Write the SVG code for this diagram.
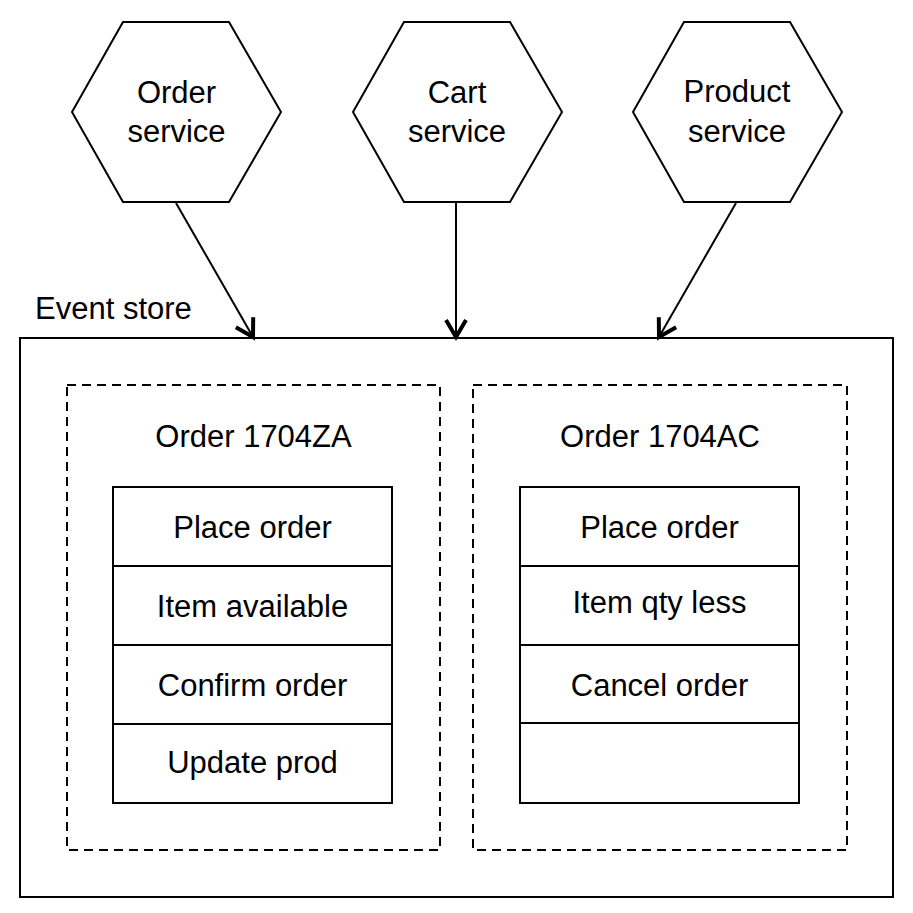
<svg xmlns="http://www.w3.org/2000/svg" width="913" height="913" viewBox="0 0 913 913">
<style>
  .shape { fill: #fff; stroke: #000; stroke-width: 2; }
  .dash { fill: none; stroke: #000; stroke-width: 2; stroke-dasharray: 9 6; }
  .cell { fill: #fff; stroke: #000; stroke-width: 2; }
  .conn { fill: none; stroke: #000; stroke-width: 2; }
  text { font-family: "Liberation Sans", Arial, sans-serif; font-size: 31px; fill: #000; }
  .c { text-anchor: middle; }
</style>
<defs>
  <marker id="chev" markerUnits="userSpaceOnUse" viewBox="-22 -14 26 28" markerWidth="26" markerHeight="28" refX="0" refY="0" orient="auto">
    <path d="M-17,-10 L0,0 L-17,10" fill="none" stroke="#000" stroke-width="4" stroke-linejoin="miter"/>
  </marker>
</defs>
<rect width="913" height="913" fill="#fff"/>

<g id="event-store">
  <rect class="shape" x="20" y="338" width="873" height="559"/>
  <text x="35" y="319">Event store</text>
</g>

<g id="order-service">
  <polygon class="shape" points="72,112 123,22 229,22 281,112 229,202 123,202"/>
  <text class="c" x="176.5" y="103">Order</text>
  <text class="c" x="176.5" y="142">service</text>
</g>
<g id="cart-service">
  <polygon class="shape" points="353,112 404,22 510,22 562,112 510,202 404,202"/>
  <text class="c" x="457" y="103">Cart</text>
  <text class="c" x="457" y="142">service</text>
</g>
<g id="product-service">
  <polygon class="shape" points="633,112 684,22 790,22 842,112 790,202 684,202"/>
  <text class="c" x="737" y="102">Product</text>
  <text class="c" x="737" y="142">service</text>
</g>

<g id="order-1704ZA">
  <rect class="dash" x="67" y="385" width="373" height="465"/>
  <text class="c" x="253.5" y="447">Order 1704ZA</text>
  <rect class="cell" x="113" y="487" width="279" height="79"/>
  <rect class="cell" x="113" y="566" width="279" height="79"/>
  <rect class="cell" x="113" y="645" width="279" height="79"/>
  <rect class="cell" x="113" y="724" width="279" height="79"/>
  <text class="c" x="252.5" y="538">Place order</text>
  <text class="c" x="252.5" y="617">Item available</text>
  <text class="c" x="252.5" y="696">Confirm order</text>
  <text class="c" x="252.5" y="773">Update prod</text>
</g>

<g id="order-1704AC">
  <rect class="dash" x="473" y="385" width="374" height="465"/>
  <text class="c" x="660" y="447">Order 1704AC</text>
  <rect class="cell" x="520" y="487" width="279" height="79"/>
  <rect class="cell" x="520" y="566" width="279" height="79"/>
  <rect class="cell" x="520" y="645" width="279" height="78"/>
  <rect class="cell" x="520" y="723" width="279" height="80"/>
  <text class="c" x="659.5" y="538">Place order</text>
  <text class="c" x="659.5" y="613">Item qty less</text>
  <text class="c" x="659.5" y="696">Cancel order</text>
</g>

<g id="connectors">
  <line class="conn" x1="176" y1="203" x2="253" y2="337" marker-end="url(#chev)"/>
  <line class="conn" x1="456" y1="203" x2="456" y2="337" marker-end="url(#chev)"/>
  <line class="conn" x1="736" y1="203" x2="659" y2="337" marker-end="url(#chev)"/>
</g>
</svg>
